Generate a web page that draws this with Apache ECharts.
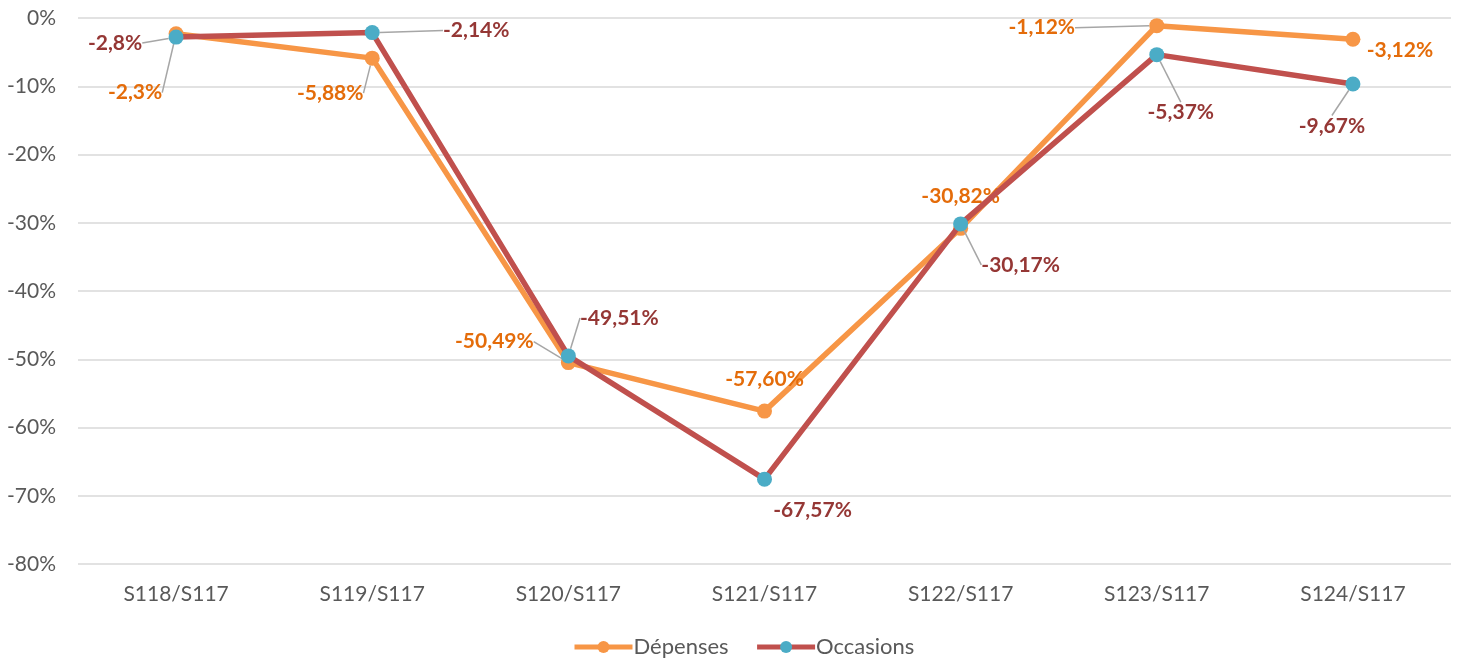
<!DOCTYPE html>
<html>
<head>
<meta charset="utf-8">
<title>Dépenses et occasions</title>
<script src="https://cdn.jsdelivr.net/npm/echarts@6/dist/echarts.min.js"></script>
<style>
  html, body { margin: 0; padding: 0; background: #fff; }
  #chart { width: 1458px; height: 663px; }
</style>
</head>
<body>
<div id="chart"></div>
<script>
// Weekly comparison categories
const categories = ['S118/S117', 'S119/S117', 'S120/S117', 'S121/S117', 'S122/S117', 'S123/S117', 'S124/S117'];

// Change versus week S117, in percent
const depenses = [-2.3, -5.88, -50.49, -57.60, -30.82, -1.12, -3.12];
const occasions = [-2.8, -2.14, -49.51, -67.57, -30.17, -5.37, -9.67];

// Decimals shown in each data label
const depensesDecimals = [1, 2, 2, 2, 2, 2, 2];
const occasionsDecimals = [1, 2, 2, 2, 2, 2, 2];

// Y axis range and step
const yMin = -80, yMax = 0, yStep = 10;

// Label offsets from each point (dx, dy) and whether a leader line is drawn
const depensesLabelOffset = [[-41, 59], [-42, 35], [-74, -21], [0, -32], [0, -32], [-115, 2], [47, 11]];
const depensesLeader = [true, true, true, false, false, true, false];
const occasionsLabelOffset = [[-61, 6], [104, -2], [51, -38], [48, 31], [60, 41], [24, 58], [-21, 42]];
const occasionsLeader = [true, true, true, false, true, true, true];

const FONT = 'Lato, "Open Sans", sans-serif';

function fmt(v, d) {
  return v.toFixed(d).replace('.', ',') + '%';
}

function buildData(values, decimals, leaders) {
  return values.map((v, i) => ({
    value: v,
    label: { formatter: fmt(v, decimals[i]) },
    labelLine: { show: leaders[i] }
  }));
}

const chart = echarts.init(document.getElementById('chart'), null, { renderer: 'canvas' });

const leaderStyle = { color: '#A6A6A6', width: 1.5 };

chart.setOption({
  animation: false,
  backgroundColor: '#ffffff',
  grid: { left: 78, right: 7, top: 18, bottom: 99, containLabel: false },
  legend: {
    bottom: 0,
    left: 567,
    itemWidth: 58,
    itemHeight: 15,
    itemGap: 26,
    textStyle: { fontFamily: FONT, fontSize: 22, color: '#595959', padding: [0, 0, 0, -4] },
    data: [
      { name: 'Dépenses', lineStyle: { width: 5 } },
      { name: 'Occasions', lineStyle: { width: 5 } }
    ]
  },
  xAxis: {
    type: 'category',
    data: categories,
    boundaryGap: true,
    axisLine: { show: false },
    axisTick: { show: false },
    axisLabel: { fontFamily: FONT, fontSize: 21, color: '#595959', margin: 20 }
  },
  yAxis: {
    type: 'value',
    min: yMin,
    max: yMax,
    interval: yStep,
    axisLine: { show: false },
    axisTick: { show: false },
    axisLabel: { fontFamily: FONT, fontSize: 21, color: '#595959', margin: 22, formatter: '{value}%' },
    splitLine: { lineStyle: { color: '#D9D9D9', width: 1.5 } }
  },
  series: [
    {
      name: 'Dépenses',
      type: 'line',
      data: buildData(depenses, depensesDecimals, depensesLeader),
      symbol: 'circle',
      symbolSize: 15,
      lineStyle: { color: '#F79646', width: 5.5 },
      itemStyle: { color: '#F79646' },
      label: {
        show: true,
        position: 'inside',
        fontFamily: FONT,
        fontSize: 21,
        fontWeight: 'bold',
        color: '#E46C0A'
      },
      labelLine: { show: true, lineStyle: leaderStyle },
      labelLayout: function (p) {
        const o = depensesLabelOffset[p.dataIndex];
        return { dx: o[0], dy: o[1] };
      },
      z: 2
    },
    {
      name: 'Occasions',
      type: 'line',
      data: buildData(occasions, occasionsDecimals, occasionsLeader),
      symbol: 'circle',
      symbolSize: 15,
      lineStyle: { color: '#C0504D', width: 5.5 },
      itemStyle: { color: '#4BACC6' },
      label: {
        show: true,
        position: 'inside',
        fontFamily: FONT,
        fontSize: 21,
        fontWeight: 'bold',
        color: '#953735'
      },
      labelLine: { show: true, lineStyle: leaderStyle },
      labelLayout: function (p) {
        const o = occasionsLabelOffset[p.dataIndex];
        return { dx: o[0], dy: o[1] };
      },
      z: 3
    }
  ]
});
</script>
</body>
</html>
